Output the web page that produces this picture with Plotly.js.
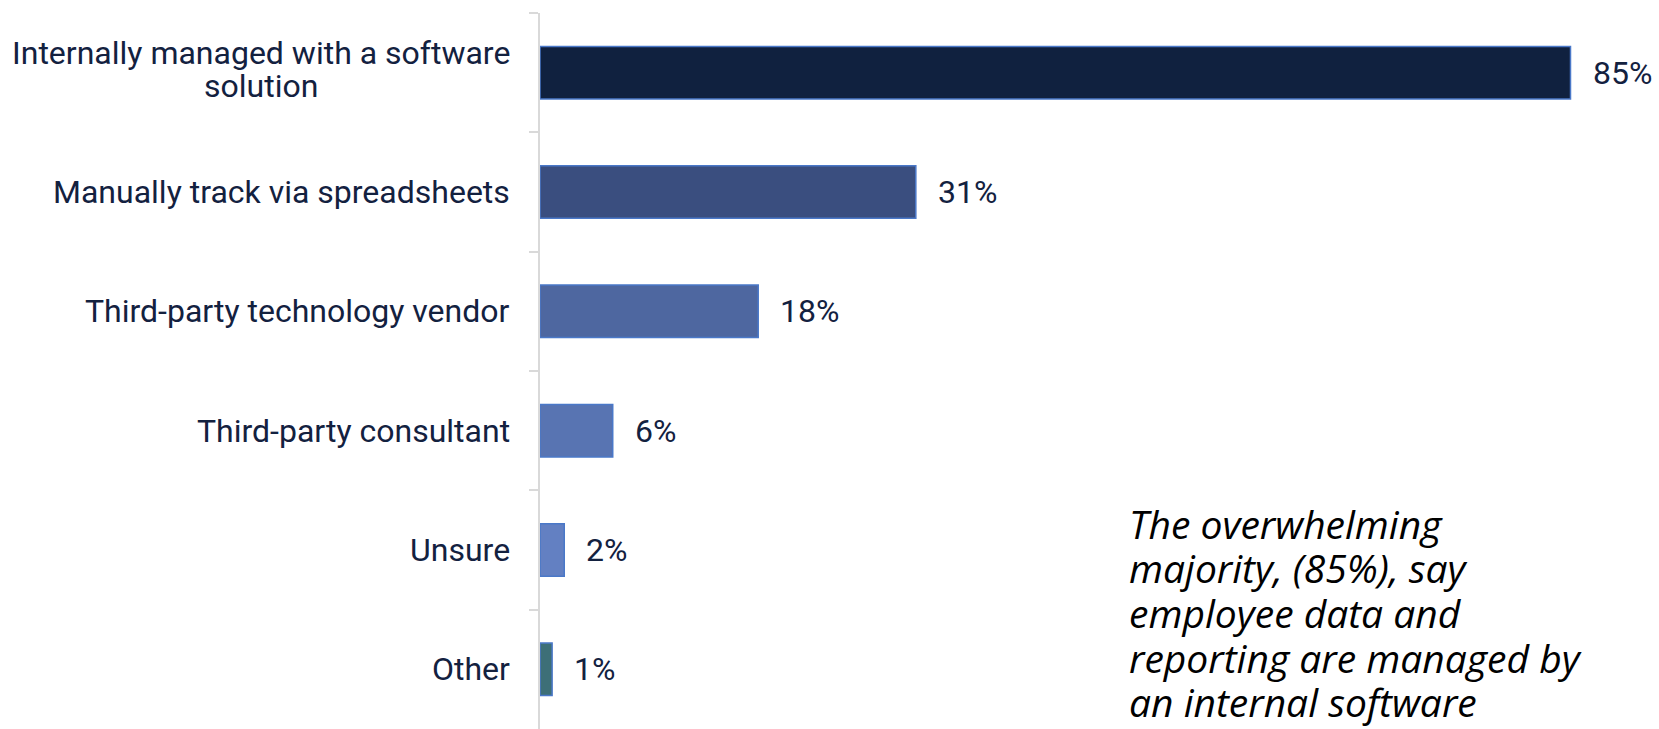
<!DOCTYPE html>
<html>
<head>
<meta charset="utf-8">
<script src="https://cdn.plot.ly/plotly-3.0.1.min.js"></script>
<style>html,body{margin:0;padding:0;background:#fff;}#chart{width:1659px;height:729px;}</style>
</head>
<body>
<div id="chart"></div>
<script>
var categories = ["Internally managed with a software<br>solution", "Manually track via spreadsheets", "Third-party technology vendor", "Third-party consultant", "Unsure", "Other"];
var values = [85, 31, 18, 6, 2, 1];
var valueLabels = ["85%", "31%", "18%", "6%", "2%", "1%"];
var barColors = ["#10213f", "#3a4e7f", "#4e67a0", "#5874b2", "#6380c2", "#3d6f77"];
var noteLines = ["The overwhelming", "majority, (85%), say", "employee data and", "reporting are managed by", "an internal software"];

var textColor = "#13213f";
var labelFont = {family: "Roboto, sans-serif", size: 32, color: textColor};

var trace = {
  type: "bar",
  orientation: "h",
  y: categories,
  x: values,
  marker: {color: barColors, line: {color: "#4a78c8", width: 1.5}},
  hoverinfo: "none"
};

var annotations = [];
var catLineGap = 33;
categories.forEach(function (c, i) {
  var lines = c.split("<br>");
  lines.forEach(function (ln, k) {
    annotations.push({
      xref: "paper", yref: "y", x: 0, y: c,
      text: ln, showarrow: false, xanchor: "right", yanchor: "middle",
      xshift: -28,
      yshift: -((k - (lines.length - 1) / 2) * catLineGap) + (lines.length > 1 ? 3 : 0),
      font: labelFont
    });
  });
  annotations.push({
    xref: "x", yref: "y", x: values[i], y: c,
    text: valueLabels[i], showarrow: false, xanchor: "left", yanchor: "middle",
    xshift: 20, font: labelFont
  });
});

var noteFont = {family: "'Open Sans', sans-serif", size: 39, color: "#000000"};
var noteGap = 44.7;
noteLines.forEach(function (ln, k) {
  annotations.push({
    xref: "paper", yref: "paper", x: 0.525, y: (729 - 523) / 716,
    xanchor: "left", yanchor: "middle", align: "left", showarrow: false,
    yshift: -k * noteGap,
    text: "<i>" + ln + "</i>",
    font: noteFont
  });
});

var layout = {
  width: 1659, height: 729,
  margin: {l: 540, r: 0, t: 13, b: 0},
  paper_bgcolor: "#ffffff", plot_bgcolor: "#ffffff",
  showlegend: false,
  bargap: 0.56,
  xaxis: {range: [0, 92.3], visible: false, showgrid: false, zeroline: false, fixedrange: true},
  yaxis: {
    autorange: "reversed", showticklabels: false,
    showline: true, linecolor: "#d9d9d9", linewidth: 2,
    ticks: "outside", tickson: "boundaries", ticklen: 9, tickcolor: "#d9d9d9", tickwidth: 2,
    showgrid: false, zeroline: false, fixedrange: true
  },
  annotations: annotations
};

Plotly.newPlot("chart", [trace], layout, {displayModeBar: false, staticPlot: true}).then(function (gd) {
  // centre shorter lines of a wrapped category beneath the longest line
  var groups = {};
  gd.layout.annotations.forEach(function (a, idx) {
    if (a.xref === "paper" && a.yref === "y") {
      (groups[a.y] = groups[a.y] || []).push(idx);
    }
  });
  var nodes = gd.querySelectorAll(".annotation-text");
  var updates = {};
  Object.keys(groups).forEach(function (key) {
    var ids = groups[key];
    if (ids.length < 2) return;
    var widths = ids.map(function (id) { return nodes[id].getBBox().width; });
    var maxW = Math.max.apply(null, widths);
    ids.forEach(function (id, j) {
      updates["annotations[" + id + "].xshift"] = -28 - (maxW - widths[j]) / 2;
    });
  });
  if (Object.keys(updates).length) Plotly.relayout(gd, updates);
});
</script>
</body>
</html>
